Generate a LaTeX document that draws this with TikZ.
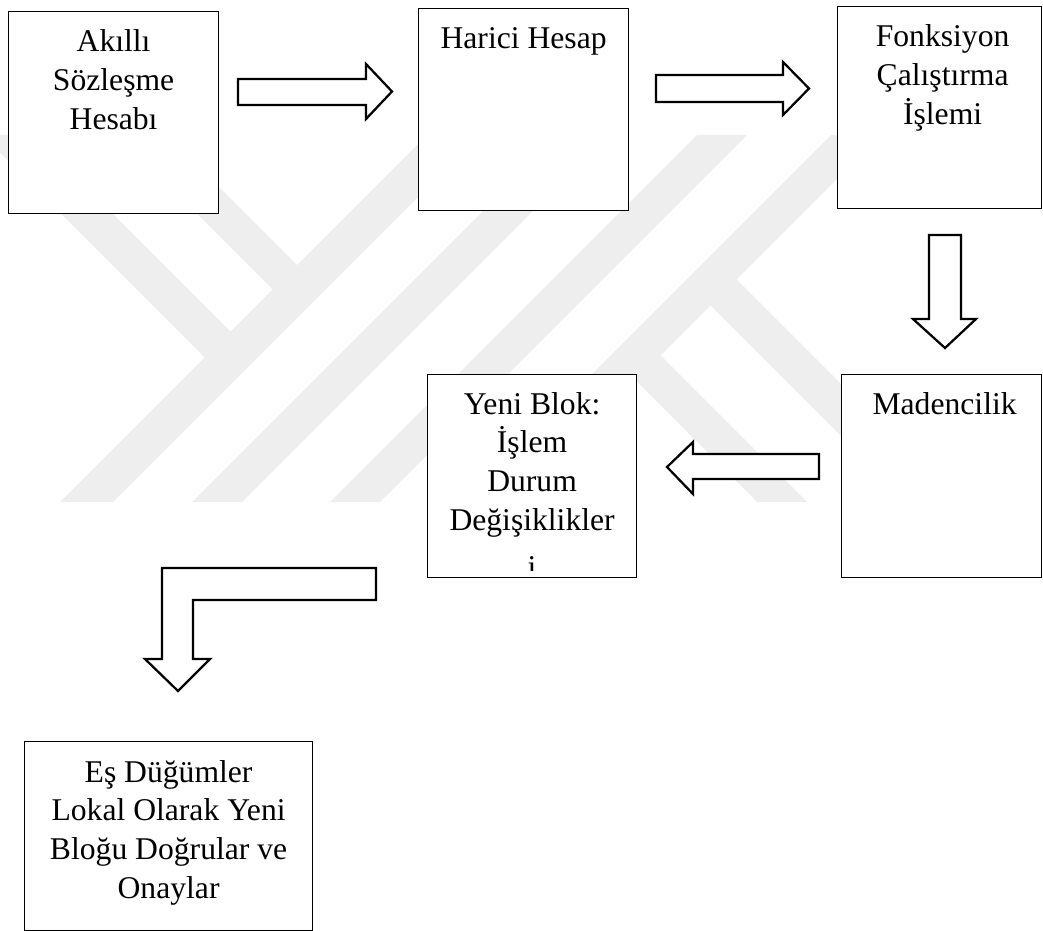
\documentclass[tikz,border=0pt]{standalone}
\usepackage{fontspec}
\setmainfont{Liberation Serif}
\usetikzlibrary{calc}
\definecolor{wmgray}{HTML}{EEEEEE}

\begin{document}
\begin{tikzpicture}[
    x=0.025cm, y=-0.025cm,
    box/.style 2 args={rectangle, draw=black, fill=white, line width=0.85pt,
                anchor=north west, inner sep=0pt,
                minimum width=#1*0.025cm, minimum height=#2*0.025cm},
    boxtext/.style={anchor=base, align=flush center, inner sep=0pt,
                text width=#1*0.025cm,
                font=\fontsize{22.5pt}{27.7pt}\selectfont},
    blockarrow/.style={draw=black, fill=white, line width=1.6pt, line join=miter},
    wm/.style={fill=wmgray}
]

\useasboundingbox (0,0) rectangle (1043,931);

% watermark
\fill[wm] (60,502) -- (113,502) -- (480,135) -- (427,135) -- cycle;
\fill[wm] (192,502) -- (242,502) -- (609,135) -- (559,135) -- cycle;
\fill[wm] (330,502) -- (380,502) -- (747,135) -- (697,135) -- cycle;
\fill[wm] (464,502) -- (514,502) -- (881,135) -- (831,135) -- cycle;
\fill[wm] (-18,135) -- (34,135) -- (239.5,340.5) -- (213.5,366.5) -- cycle;
\fill[wm] (118,135) -- (167,135) -- (306,274) -- (281.5,298.5) -- cycle;
\fill[wm] (728.5,271.5) -- (959,502) -- (907,502) -- (702.5,297.5) -- cycle;
\fill[wm] (652.5,347.5) -- (807,502) -- (757,502) -- (627.5,372.5) -- cycle;

\node[box={210}{202}] (acct) at (8,11) {};
\node[box={210}{202}] (ext) at (418,8) {};
\node[box={204}{202}] (func) at (837,6) {};
\node[box={200}{203}] (mine) at (841,374) {};
\node[box={209}{203}] (block) at (427,374) {};
\node[box={288}{189}] (peers) at (24,741) {};

\node[boxtext=204] (acct-t) at ($(acct.north)+(0,41)$) {Akıllı\\Sözleşme\\Hesabı};
\node[boxtext=204] (ext-t) at ($(ext.north)+(0,41)$) {Harici Hesap};
\node[boxtext=198] (func-t) at ($(func.north)+(3,41)$) {Fonksiyon\\Çalıştırma\\İşlemi};
\node[boxtext=196] (mine-t) at ($(mine.north)+(3,40)$) {Madencilik};
\begin{scope}
  \clip (block.north west) rectangle ($(block.south east)+(0,-8)$);
  \node[boxtext=203] (block-t) at ($(block.north)+(0,40)$) {Yeni Blok:\\İşlem\\Durum\\Değişiklikler\\[0.2cm]i};
\end{scope}
\node[boxtext=282] (peers-t) at ($(peers.north)+(0,41)$) {Eş Düğümler\\Lokal Olarak Yeni\\Bloğu Doğrular ve\\Onaylar};

\draw[blockarrow] (238,79) -- (366,79) -- (366,64) -- (392,91.5) -- (366,119) -- (366,105) -- (238,105) -- cycle;
\draw[blockarrow] (656,75) -- (783,75) -- (783,62) -- (809,88.5) -- (783,115) -- (783,102) -- (656,102) -- cycle;
\draw[blockarrow] (929,235) -- (961,235) -- (961,319) -- (976,319) -- (945,348) -- (913,319) -- (929,319) -- cycle;
\draw[blockarrow] (819,454) -- (693,454) -- (693,442) -- (667,467) -- (693,494) -- (693,479) -- (819,479) -- cycle;
\draw[blockarrow] (376,568) -- (162,568) -- (162,659) -- (145,659) -- (178,691) -- (210,659) -- (193,659) -- (193,600) -- (376,600) -- cycle;

\end{tikzpicture}
\end{document}
